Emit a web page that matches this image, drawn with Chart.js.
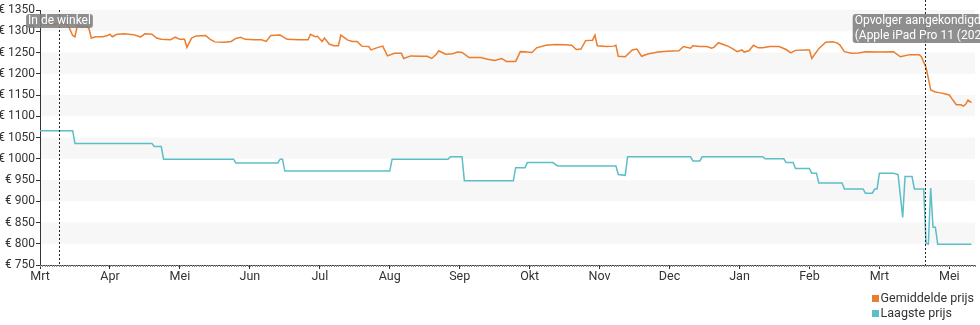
<!DOCTYPE html>
<html>
<head>
<meta charset="utf-8">
<script src="https://cdn.jsdelivr.net/npm/chart.js@4"></script>
<style>
    body { margin: 0; background: #fff; font-family: Roboto, sans-serif; }
    #wrap { position: relative; width: 980px; height: 325px; }
    #legend { position: absolute; right: 6px; top: 290px; font-size: 12.5px; color: #333; line-height: 15px; }
    #legend .sq { display: inline-block; width: 7px; height: 7px; margin-right: 2px; }
</style>
</head>
<body>
<div id="wrap">
    <canvas id="price-chart" width="980" height="325"></canvas>
    <div id="legend"></div>
</div>
<script>
// days since start of range (1 day per unit on the x axis)
const avgDays = [0, 4, 9, 12, 14, 15, 16, 18, 20, 21, 22, 24, 27, 29, 30, 31, 33, 36, 40, 42, 43, 45, 48, 50, 52, 56, 58, 60, 62, 63,
    65, 67, 71, 73, 75, 79, 82, 84, 86, 88, 92, 95, 97, 99, 103, 106, 111, 115, 116, 118, 119, 121, 122, 124, 126, 128, 129, 132, 134, 136,
    138, 141, 142, 145, 147, 149, 152, 155, 156, 159, 163, 166, 168, 170, 171, 174, 177, 179, 181, 184, 189, 192, 195, 198, 200, 204, 206, 209, 211, 213,
    217, 221, 225, 228, 230, 232, 234, 237, 238, 239, 243, 246, 247, 248, 251, 254, 256, 258, 261, 263, 265, 269, 274, 276, 279, 280, 283, 286, 288, 289,
    291, 293, 295, 297, 299, 301, 302, 304, 306, 308, 310, 313, 317, 320, 322, 324, 328, 330, 331, 334, 337, 340, 342, 343, 345, 348, 351, 354, 360, 366,
    369, 373, 377, 378, 380, 381, 382, 384, 386, 388, 390, 391, 393, 395, 396, 397, 398, 399.5];
const avgPrices = [1317, 1316, 1318, 1315, 1290, 1287, 1314, 1310, 1312, 1306, 1284, 1287, 1287, 1290, 1293, 1287, 1293, 1294, 1292, 1289, 1286, 1294, 1293, 1284, 1281, 1280, 1286, 1281, 1281, 1262,
    1284, 1289, 1290, 1281, 1275, 1274, 1276, 1283, 1286, 1281, 1280, 1280, 1276, 1290, 1291, 1281, 1280, 1280, 1293, 1287, 1288, 1276, 1284, 1270, 1266, 1266, 1291, 1279, 1276, 1276,
    1265, 1264, 1256, 1262, 1265, 1242, 1248, 1248, 1236, 1242, 1241, 1241, 1236, 1246, 1254, 1246, 1247, 1251, 1250, 1238, 1238, 1234, 1231, 1236, 1229, 1229, 1252, 1251, 1250, 1261,
    1267, 1269, 1268, 1267, 1257, 1258, 1278, 1279, 1291, 1266, 1264, 1265, 1267, 1241, 1240, 1256, 1258, 1241, 1247, 1249, 1251, 1253, 1254, 1264, 1260, 1266, 1264, 1264, 1260, 1262,
    1273, 1269, 1265, 1259, 1252, 1256, 1251, 1254, 1267, 1261, 1261, 1264, 1264, 1257, 1249, 1255, 1256, 1256, 1236, 1259, 1274, 1275, 1272, 1268, 1252, 1248, 1249, 1252, 1251, 1252,
    1240, 1245, 1245, 1240, 1215, 1189, 1162, 1157, 1155, 1153, 1150, 1142, 1127, 1127, 1124, 1128, 1138, 1132];

const lowDays = [0, 14, 15, 48, 49, 52, 53, 83, 84, 102, 103, 104, 105, 150, 151, 175, 176, 181, 182, 203, 204, 208, 209, 220, 222, 247, 248, 251, 252, 279,
    280, 283, 284, 310, 311, 319, 320, 323, 324, 330, 331, 333, 334, 344, 345, 353, 354, 357, 358, 359, 360, 366, 368, 370, 371, 374, 375, 379, 380, 381,
    382, 383, 384, 385, 399.5];
const lowPrices = [1066, 1066, 1036, 1036, 1029, 1029, 999, 999, 990, 990, 999, 999, 971, 971, 999, 999, 1005, 1005, 948, 948, 979, 979, 991, 991, 983, 983, 963, 961, 1005, 1005,
    995, 995, 1005, 1005, 1000, 1000, 991, 991, 977, 977, 966, 966, 943, 943, 929, 929, 919, 919, 929, 929, 966, 966, 963, 862, 958, 958, 929, 929, 801, 799,
    931, 839, 839, 799, 799];

const tickDays = [0, 30, 60, 90, 120, 150, 180, 210, 240, 270, 300, 330, 360, 390];
const monthLabels = ['Mrt', 'Apr', 'Mei', 'Jun', 'Jul', 'Aug', 'Sep', 'Okt', 'Nov', 'Dec', 'Jan', 'Feb', 'Mrt', 'Mei'];

const markerDays = [8, 379.5];
const markerTexts = [['In de winkel'], ['Opvolger aangekondigd', '(Apple iPad Pro 11 (2024))']];

const ORANGE = '#eb7d2d';
const TEAL = '#5cbec7';

function toPoints(days, values) {
    return days.map((d, i) => ({ x: d, y: values[i] }));
}

// light grey band on every other 50 euro step
const bandsPlugin = {
    id: 'bands',
    beforeDraw(chart) {
        const ctx = chart.ctx;
        const area = chart.chartArea;
        const y = chart.scales.y;
        ctx.save();
        ctx.fillStyle = '#f7f7f7';
        for (let v = 800; v < 1350; v += 100) {
            const top = y.getPixelForValue(v + 50);
            const bottom = y.getPixelForValue(v);
            ctx.fillRect(area.left + 1, top, area.right - area.left - 1, bottom - top);
        }
        ctx.restore();
    }
};

// small day ticks along the x axis
const dayTicksPlugin = {
    id: 'dayTicks',
    afterDraw(chart) {
        const ctx = chart.ctx;
        const x = chart.scales.x;
        const bottom = chart.chartArea.bottom;
        ctx.save();
        ctx.strokeStyle = '#888';
        ctx.lineWidth = 1;
        ctx.beginPath();
        for (let d = 0; d <= x.max; d++) {
            const px = Math.round(x.getPixelForValue(d)) + 0.5;
            ctx.moveTo(px, bottom);
            ctx.lineTo(px, bottom + 2);
        }
        ctx.stroke();
        ctx.restore();
    }
};

// dotted event lines with grey labels
const markersPlugin = {
    id: 'markers',
    afterDatasetsDraw(chart) {
        const ctx = chart.ctx;
        const area = chart.chartArea;
        const x = chart.scales.x;
        ctx.save();
        markerDays.forEach((day, i) => {
            const px = Math.round(x.getPixelForValue(day)) + 0.5;
            ctx.strokeStyle = '#222';
            ctx.lineWidth = 1;
            ctx.setLineDash([2, 2]);
            ctx.beginPath();
            ctx.moveTo(px, i === 0 ? area.top : 0);
            ctx.lineTo(px, area.bottom);
            ctx.stroke();
            ctx.setLineDash([]);

            const lines = markerTexts[i];
            ctx.font = '12px Roboto';
            const w = Math.max(...lines.map(t => ctx.measureText(t).width)) + 4;
            const h = lines.length * 15 - 1;
            const left = px - w / 2;
            const top = 14;
            ctx.fillStyle = 'rgba(128,128,128,0.88)';
            ctx.beginPath();
            ctx.roundRect(left, top, w, h, 3);
            ctx.fill();
            ctx.fillStyle = '#fff';
            ctx.textBaseline = 'middle';
            ctx.textAlign = 'left';
            lines.forEach((t, j) => ctx.fillText(t, left + 2, top + 7 + j * 15));
        });
        ctx.restore();
    }
};

Chart.defaults.font.family = 'Roboto';
Chart.defaults.color = '#333';

const priceChart = new Chart(document.getElementById('price-chart'), {
    type: 'line',
    data: {
        datasets: [{
            label: 'Gemiddelde prijs',
            data: toPoints(avgDays, avgPrices),
            borderColor: ORANGE,
            backgroundColor: ORANGE,
            borderWidth: 1.5,
            pointRadius: 0,
            tension: 0
        }, {
            label: 'Laagste prijs',
            data: toPoints(lowDays, lowPrices),
            borderColor: TEAL,
            backgroundColor: TEAL,
            borderWidth: 1.5,
            pointRadius: 0,
            tension: 0
        }]
    },
    options: {
        responsive: false,
        animation: false,
        layout: {
            padding: { top: 10, right: 5 }
        },
        plugins: {
            legend: { display: false },
            tooltip: { enabled: false }
        },
        scales: {
            x: {
                type: 'linear',
                min: 0,
                max: 401,
                afterBuildTicks: scale => {
                    scale.ticks = tickDays.map(v => ({ value: v }));
                },
                afterFit: scale => {
                    scale.height = 60;
                },
                border: { color: '#444', width: 1 },
                grid: {
                    drawOnChartArea: false,
                    tickLength: 4,
                    color: '#333'
                },
                ticks: {
                    autoSkip: false,
                    maxRotation: 0,
                    padding: 0,
                    font: { size: 12.5 },
                    callback: (value, index) => monthLabels[index]
                }
            },
            y: {
                min: 750,
                max: 1350,
                afterFit: scale => {
                    scale.width = 40;
                },
                border: { color: '#333', width: 1 },
                grid: {
                    drawOnChartArea: false,
                    tickLength: 4,
                    color: '#333'
                },
                ticks: {
                    stepSize: 50,
                    padding: 1,
                    font: { size: 12 },
                    callback: value => '€ ' + value
                }
            }
        }
    },
    plugins: [bandsPlugin, dayTicksPlugin, markersPlugin]
});

// legend stacked in the bottom right corner
const legend = document.getElementById('legend');
priceChart.data.datasets.forEach(ds => {
    const row = document.createElement('div');
    row.innerHTML = '<span class="sq" style="background:' + ds.borderColor + '"></span>' + ds.label;
    legend.appendChild(row);
});
</script>
</body>
</html>
